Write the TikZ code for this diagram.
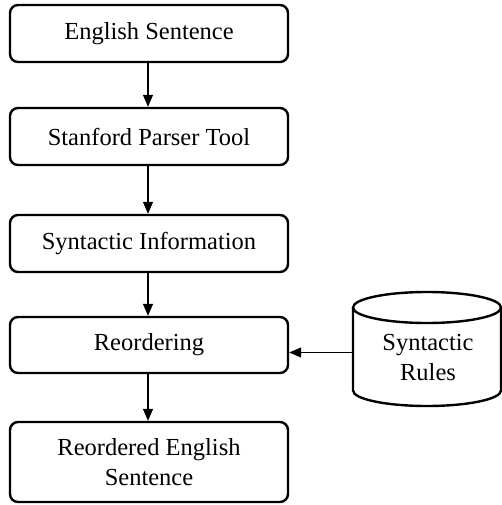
\documentclass[tikz,border=0pt]{standalone}
\usepackage{fontspec}
\setmainfont{Liberation Serif}
\usetikzlibrary{arrows.meta}
\begin{document}
\begin{tikzpicture}[x=1pt,y=1pt,
  stepbox/.style={draw, line width=2.4pt, rounded corners=8pt,
    minimum width=278pt, inner sep=0pt, align=center,
    font=\fontsize{24.5}{30}\selectfont},
  flow/.style={line width=1.2pt, -{Triangle[length=12pt,width=10pt]}},
  cyl/.style={line width=2.4pt},
  lbl/.style={font=\fontsize{24.5}{30}\selectfont, align=center, inner sep=0pt}]
\useasboundingbox (0,0) rectangle (502,-505);

% processing steps
\node[stepbox, minimum height=57pt] (s1) at (149,-33.5) {English Sentence};
\node[stepbox, minimum height=57pt] (s2) at (149,-136.5) {Stanford Parser Tool};
\node[stepbox, minimum height=57pt] (s3) at (149,-243.5) {Syntactic Information};
\node[stepbox, minimum height=56pt] (s4) at (149,-345) {Reordering};
\node[stepbox, minimum height=80pt] (s5) at (149,-462) {Reordered English\\Sentence};

% rule store drawn as a cylinder
\draw[cyl, fill=white] (353,-307.5) -- (353,-390.5)
  arc[start angle=180, end angle=360, x radius=74, y radius=15.5]
  -- (501,-307.5);
\draw[cyl] (427,-307.5) ellipse[x radius=74, y radius=15.5];
\node[lbl] (rules) at (428,-358) {Syntactic\\Rules};
\coordinate (rulesin) at (353,-352.5);

% connectors
\draw[flow] (s1.south -| 148,0) -- (s2.north -| 148,0);
\draw[flow] (s2.south -| 148,0) -- (s3.north -| 148,0);
\draw[flow] (s3.south -| 148,0) -- (s4.north -| 148,0);
\draw[flow] (s4.south -| 148,0) -- (s5.north -| 148,0);
\draw[flow] (rulesin) -- (rulesin -| s4.east);
\end{tikzpicture}
\end{document}
